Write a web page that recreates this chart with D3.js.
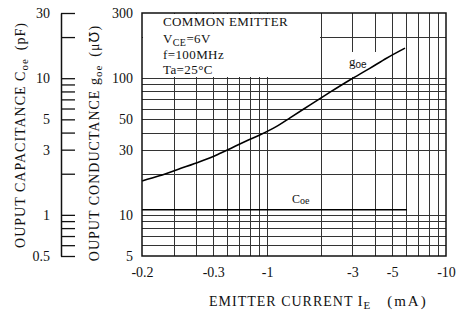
<!DOCTYPE html>
<html>
<head>
<meta charset="utf-8">
<script src="https://cdn.jsdelivr.net/npm/d3@7"></script>
<style>
body { margin: 0; background: #fff; }
text { font-family: "Liberation Serif", "Times New Roman", serif; fill: #111; }
</style>
</head>
<body>
<svg id="chart" width="460" height="314"></svg>
<script>
// values (emitter current shown as magnitude, mA)
var current = [0.2, 0.25, 0.33, 0.42, 0.53, 0.65, 0.77, 0.91, 1.15, 1.35, 1.75, 2.25, 2.9, 3.75, 4.65, 5.9];
var goe = [17.7, 19.3, 21.9, 24.5, 27.7, 31.4, 34.8, 38.4, 45, 51.5, 64, 79, 97, 118, 140, 166];
var coeCurrent = [0.2, 6.05];
var coe = [1.09, 1.09];

var xTickValues = [0.2, 0.5, 1, 3, 5, 10];
var xTickLabels = ["-0.2", "-0.3", "-1", "-3", "-5", "-10"];
var goeTicks = [300, 100, 50, 30, 10, 5];
var coeTicks = [30, 10, 5, 3, 1, 0.5];
var coeMinor = [30, 20, 10, 9, 8, 7, 6, 5, 4, 3, 2, 1, 0.9, 0.8, 0.7, 0.6, 0.5];
var xGrid = [0.3, 0.4, 0.5, 0.6, 0.7, 0.8, 0.9, 1, 2, 3, 4, 5, 6, 7, 8, 9];
var yGrid = [200, 100, 90, 80, 70, 60, 50, 40, 30, 20, 10, 9, 8, 7, 6];

// plot box (window.top is reserved, so prefixed names)
var pLeft = 142, pRight = 446, pTop = 13, pBottom = 256;
var svg = d3.select("#chart");

var x = d3.scaleLog().domain([0.2, 10]).range([pLeft, pRight]);
var yG = d3.scaleLog().domain([5, 300]).range([pBottom, pTop]);
var yC = d3.scaleLog().domain([0.5, 30]).range([pBottom, pTop]);

// ~~~~ grid ~~~~
var grid = svg.append("g").attr("shape-rendering", "crispEdges");
grid.append("g")
  .attr("transform", "translate(0," + pBottom + ")")
  .call(d3.axisBottom(x).tickValues(xGrid).tickSize(-(pBottom - pTop)).tickFormat(""))
  .call(g => g.select(".domain").remove());
grid.append("g")
  .attr("transform", "translate(" + pLeft + ",0)")
  .call(d3.axisLeft(yG).tickValues(yGrid).tickSize(-(pRight - pLeft)).tickFormat(""))
  .call(g => g.select(".domain").remove());
grid.selectAll("line").attr("stroke", "#333").attr("stroke-width", 1);

// white patches behind the notes
svg.append("rect").attr("x", pLeft + 1).attr("y", pTop + 1).attr("width", 177).attr("height", 63).attr("fill", "#fff");
svg.append("rect").attr("x", 346).attr("y", 52).attr("width", 31).attr("height", 25).attr("fill", "#fff");

// ~~~~ curves ~~~~
var line = d3.line().x(d => x(d[0])).y(d => yG(d[1])).curve(d3.curveMonotoneX);
svg.append("path")
  .datum(current.map((c, i) => [c, goe[i]]))
  .attr("d", line)
  .attr("fill", "none").attr("stroke", "#000").attr("stroke-width", 1.6);

var capLine = d3.line().x(d => x(d[0])).y(d => yC(d[1]));
svg.append("path")
  .datum(coeCurrent.map((c, i) => [c, coe[i]]))
  .attr("d", capLine)
  .attr("fill", "none").attr("stroke", "#000").attr("stroke-width", 1.5);

// frame
svg.append("rect")
  .attr("x", pLeft).attr("y", pTop).attr("width", pRight - pLeft).attr("height", pBottom - pTop)
  .attr("fill", "none").attr("stroke", "#111").attr("stroke-width", 1.5);

// ~~~~ axes ~~~~
var xAxis = svg.append("g")
  .attr("transform", "translate(0," + pBottom + ")")
  .call(d3.axisBottom(x).tickValues(xTickValues).tickFormat((d, i) => xTickLabels[i]).tickSize(0).tickPadding(11));
var gAxis = svg.append("g")
  .attr("transform", "translate(" + pLeft + ",0)")
  .call(d3.axisLeft(yG).tickValues(goeTicks).tickFormat(d3.format("")).tickSize(0).tickPadding(9));
var cAxis = svg.append("g")
  .attr("transform", "translate(61,0)")
  .call(d3.axisLeft(yC).tickValues(coeTicks).tickFormat(d3.format("")).tickSize(0).tickSizeOuter(0).tickPadding(11));
var cTicks = svg.append("g")
  .attr("transform", "translate(61,0)")
  .call(d3.axisRight(yC).tickValues(coeMinor).tickSize(14).tickFormat(""))
  .call(g => g.select(".domain").remove());
[xAxis, gAxis].forEach(a => a.select(".domain").remove());
cAxis.select(".domain").attr("stroke", "#111").attr("stroke-width", 1.5);
cTicks.selectAll("line").attr("stroke", "#111").attr("stroke-width", 1.3);
svg.selectAll(".tick text").attr("font-family", "Liberation Serif").attr("font-size", 14).attr("fill", "#111");

// ~~~~ notes ~~~~
var note = svg.append("g").attr("font-size", 13).attr("letter-spacing", 0.4);
note.append("text").attr("x", 163).attr("y", 26).text("COMMON EMITTER");
var vce = note.append("text").attr("x", 163).attr("y", 43);
vce.append("tspan").text("V");
vce.append("tspan").attr("font-size", 10).attr("dy", 3).text("CE");
vce.append("tspan").attr("dy", -3).text("=6V");
note.append("text").attr("x", 163).attr("y", 59).text("f=100MHz");
note.append("text").attr("x", 163).attr("y", 74).text("Ta=25°C");

var gl = svg.append("text").attr("x", 349).attr("y", 66).attr("font-size", 13);
gl.append("tspan").text("g");
gl.append("tspan").attr("font-size", 10).attr("dy", 2).attr("font-family", "Liberation Sans").text("oe");

var cl = svg.append("text").attr("x", 292).attr("y", 203).attr("font-size", 12).attr("font-family", "Liberation Sans");
cl.append("tspan").text("C");
cl.append("tspan").attr("font-size", 10).attr("dy", 1).text("oe");

// ~~~~ titles ~~~~
var xt = svg.append("text").attr("x", 209).attr("y", 306).attr("font-size", 14).attr("letter-spacing", 1);
xt.append("tspan").text("EMITTER CURRENT I");
xt.append("tspan").attr("font-size", 11).attr("dy", 3).text("E");
xt.append("tspan").attr("dy", -3).attr("dx", 16).attr("font-size", 15).attr("letter-spacing", 2).text("(mA)");

function yTitle(cx, cy, main, unit) {
  var t = svg.append("text")
    .attr("transform", "translate(" + cx + "," + cy + ") rotate(-90)")
    .attr("text-anchor", "middle").attr("font-size", 14).attr("letter-spacing", 1);
  t.append("tspan").text(main);
  t.append("tspan").attr("font-size", 11).attr("dy", 3).text("oe");
  t.append("tspan").attr("dy", -3).attr("dx", 8).text(unit);
}
yTitle(25, 135, "OUPUT CAPACITANCE C", "(pF)");
yTitle(99, 143, "OUPUT CONDUCTANCE g", "(μ℧)");
</script>
</body>
</html>
